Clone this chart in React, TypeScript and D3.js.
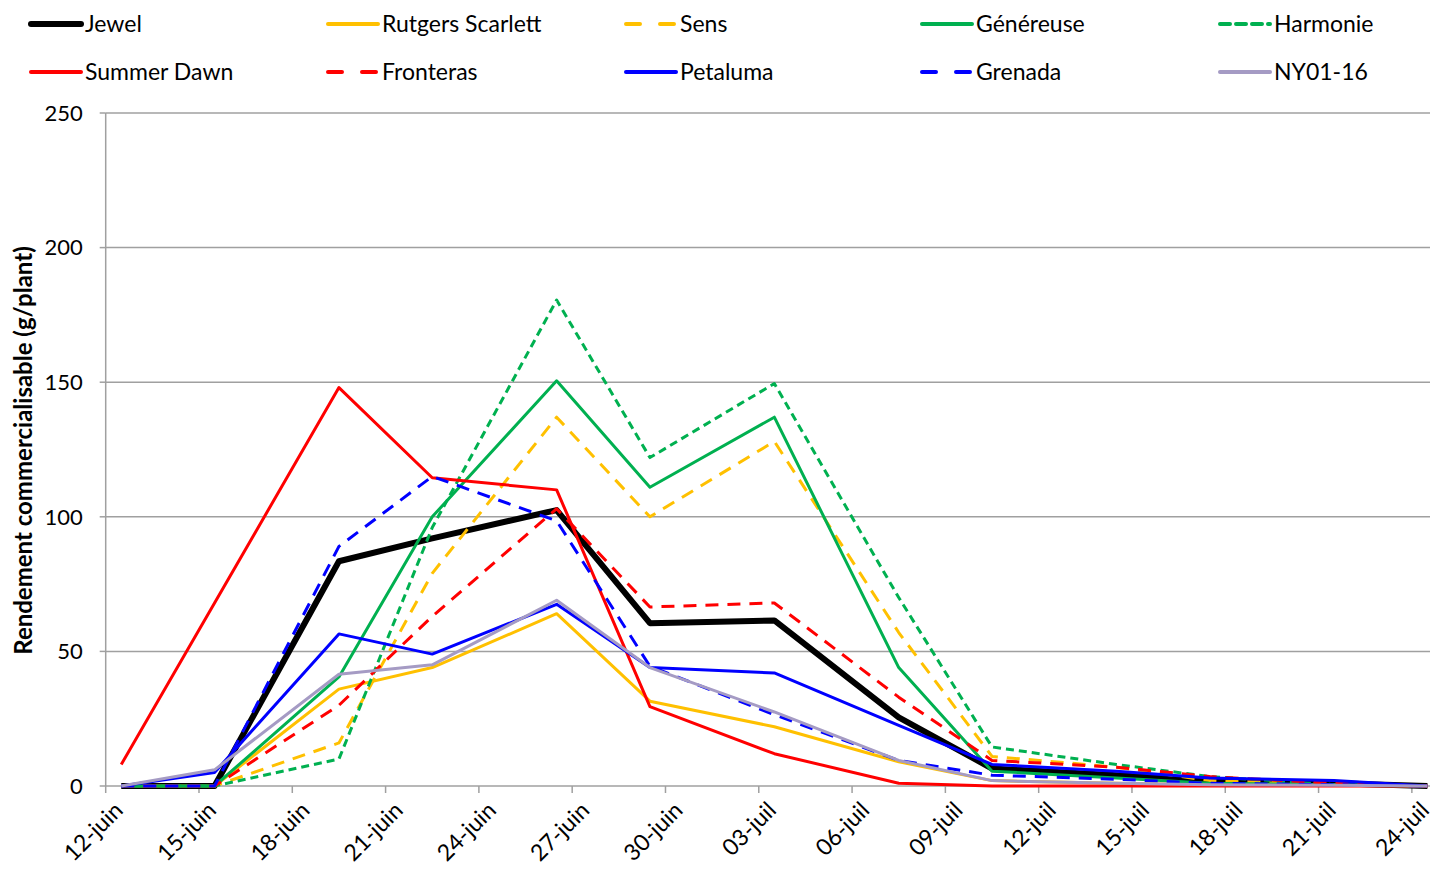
import React, { useRef, useEffect } from 'react';
import * as d3 from 'd3';

// harvest dates (points sit at noon, as in the spreadsheet date axis)
const dates = [
  '2013-06-12', '2013-06-15', '2013-06-19', '2013-06-22', '2013-06-26', '2013-06-29',
  '2013-07-03', '2013-07-07', '2013-07-10', '2013-07-14', '2013-07-17', '2013-07-21', '2013-07-24',
];

const jewel = [0, 0, 83.5, 92, 102.5, 60.5, 61.5, 25.5, 6.5, 4, 2, 1, 0];
const rutgersScarlett = [0, 0, 36, 44, 64, 31.5, 22, 9, 2, 1, 0.5, 0.3, 0];
const sens = [0, 0, 16, 79, 137, 100, 128, 57, 11, 7, 2, 0.5, 0];
const genereuse = [0, 0, 40.5, 100, 150.5, 111, 137, 44, 5.5, 3, 1, 0.5, 0];
const harmonie = [0, 0, 10, 96, 180.5, 122, 149.5, 70, 14.5, 8, 3.5, 0.5, 0];
const summerDawn = [8, 68, 148, 114.5, 110, 29.5, 12, 1, 0, 0, 0, 0, 0];
const fronteras = [0, 0, 30, 63, 103, 66.5, 68, 33, 9.5, 7, 3.5, 1, 0];
const petaluma = [0, 5, 56.5, 49, 67.5, 44, 42, 22.5, 8, 5.5, 3, 2, 0];
const grenada = [0, 0, 89, 115, 98.5, 44.5, 26.5, 9.5, 4, 2.5, 1, 0.5, 0];
const ny0116 = [0, 6, 41.5, 45, 69, 44, 27.5, 9.5, 2, 1, 0.5, 0.3, 0];

const xTickLabels = [
  '12-juin', '15-juin', '18-juin', '21-juin', '24-juin', '27-juin', '30-juin',
  '03-juil', '06-juil', '09-juil', '12-juil', '15-juil', '18-juil', '21-juil', '24-juil',
];
const yTicks = [0, 50, 100, 150, 200, 250];

const series = [
  { name: 'Jewel', values: jewel, color: '#000000', width: 6, dash: null },
  { name: 'Rutgers Scarlett', values: rutgersScarlett, color: '#FFC000', width: 3, dash: null },
  { name: 'Sens', values: sens, color: '#FFC000', width: 3, dash: '13,9' },
  { name: 'Généreuse', values: genereuse, color: '#00B050', width: 3, dash: null },
  { name: 'Harmonie', values: harmonie, color: '#00B050', width: 3, dash: '8,5' },
  { name: 'Summer Dawn', values: summerDawn, color: '#FF0000', width: 3, dash: null },
  { name: 'Fronteras', values: fronteras, color: '#FF0000', width: 3, dash: '13,9' },
  { name: 'Petaluma', values: petaluma, color: '#0000FF', width: 3, dash: null },
  { name: 'Grenada', values: grenada, color: '#0000FF', width: 3, dash: '13,9' },
  { name: 'NY01-16', values: ny0116, color: '#A59BC4', width: 3, dash: null },
];

const FONT = 'Lato, "Open Sans", sans-serif';

const App: React.FC = () => {
  const svgRef = useRef<SVGSVGElement | null>(null);
  const width = 1434;
  const height = 869;

  useEffect(() => {
    if (!svgRef.current) return;
    const svg = d3.select(svgRef.current);
    svg.selectAll('*').remove();

    const parse = d3.timeParse('%Y-%m-%d');
    const start = parse(dates[0]) as Date;
    const end = d3.timeHour.offset(parse(dates[dates.length - 1]) as Date, 14);

    const x = d3.scaleTime().domain([start, end]).range([105.7, 1430]);
    const y = d3.scaleLinear().domain([0, 250]).range([786, 113]);

    const pointDates = dates.map(d => d3.timeHour.offset(parse(d) as Date, 12));
    const tickDates = d3.timeDay.range(start, d3.timeDay.offset(end, 1), 3).slice(0, xTickLabels.length);

    // gridlines
    svg.append('g')
      .selectAll('line')
      .data(yTicks.filter(t => t > 0))
      .enter()
      .append('line')
      .attr('x1', x.range()[0])
      .attr('x2', x.range()[1])
      .attr('y1', d => y(d))
      .attr('y2', d => y(d))
      .attr('stroke', '#A0A0A0')
      .attr('stroke-width', 1.5);

    // y axis
    const gY = svg.append('g').attr('transform', `translate(${x.range()[0]},0)`);
    gY.append('line')
      .attr('y1', y(0)).attr('y2', y(250))
      .attr('stroke', '#A0A0A0').attr('stroke-width', 1.5);
    gY.selectAll('line.tick')
      .data(yTicks)
      .enter()
      .append('line')
      .attr('class', 'tick')
      .attr('x1', -6).attr('x2', 0)
      .attr('y1', d => y(d)).attr('y2', d => y(d))
      .attr('stroke', '#A0A0A0').attr('stroke-width', 1.5);
    gY.selectAll('text')
      .data(yTicks)
      .enter()
      .append('text')
      .attr('x', -23)
      .attr('y', d => y(d))
      .attr('dy', '0.35em')
      .attr('text-anchor', 'end')
      .style('font-family', FONT)
      .style('font-size', '22px')
      .attr('fill', '#000')
      .text(d => d);

    // x axis
    const gX = svg.append('g').attr('transform', `translate(0,${y(0)})`);
    gX.append('line')
      .attr('x1', x.range()[0]).attr('x2', x.range()[1])
      .attr('stroke', '#A0A0A0').attr('stroke-width', 1.5);
    gX.selectAll('line.tick')
      .data(tickDates)
      .enter()
      .append('line')
      .attr('class', 'tick')
      .attr('x1', d => x(d)).attr('x2', d => x(d))
      .attr('y1', 0).attr('y2', 7)
      .attr('stroke', '#A0A0A0').attr('stroke-width', 1.5);
    gX.selectAll('text')
      .data(tickDates)
      .enter()
      .append('text')
      .attr('transform', d => `translate(${x(d) + 13},${20}) rotate(-45)`)
      .attr('text-anchor', 'end')
      .attr('dy', '0.35em')
      .style('font-family', FONT)
      .style('font-size', '23px')
      .attr('fill', '#000')
      .text((d, i) => xTickLabels[i]);

    // y axis title
    svg.append('text')
      .attr('transform', `translate(24,${(y(0) + y(250)) / 2 + 1}) rotate(-90)`)
      .attr('text-anchor', 'middle')
      .attr('dy', '0.35em')
      .style('font-family', FONT)
      .style('font-size', '24px')
      .style('font-weight', 'bold')
      .text('Rendement commercialisable (g/plant)');

    // lines
    const line = d3.line<number>()
      .x((d, i) => x(pointDates[i]))
      .y(d => y(d))
      .curve(d3.curveLinear);

    series.forEach(s => {
      svg.append('path')
        .datum(s.values)
        .attr('fill', 'none')
        .attr('stroke', s.color)
        .attr('stroke-width', s.width)
        .attr('stroke-linejoin', 'round')
        .attr('stroke-dasharray', s.dash)
        .attr('d', line);
    });

    // legend: 5 columns, 2 rows
    const colX = [31, 328, 626, 922, 1220];
    const rowY = [24, 72];
    const legend = svg.append('g');
    series.forEach((s, i) => {
      const lx = colX[i % 5];
      const ly = rowY[Math.floor(i / 5)];
      legend.append('line')
        .attr('x1', lx).attr('x2', lx + 50)
        .attr('y1', ly).attr('y2', ly)
        .attr('stroke', s.color)
        .attr('stroke-width', s.width === 6 ? 6 : 4)
        .attr('stroke-linecap', 'round')
        .attr('stroke-dasharray', s.dash ? (s.dash === '8,5' ? '10,6' : '14,20') : null);
      legend.append('text')
        .attr('x', lx + 54)
        .attr('y', ly)
        .attr('dy', '0.35em')
        .style('font-family', FONT)
        .style('font-size', '23px')
        .attr('fill', '#000')
        .text(s.name);
    });
  }, []);

  return (
    <svg
      ref={svgRef}
      width={width}
      height={height}
      style={{ position: 'absolute', left: 0, top: 0, background: '#fff' }}
    />
  );
};

export default App;
